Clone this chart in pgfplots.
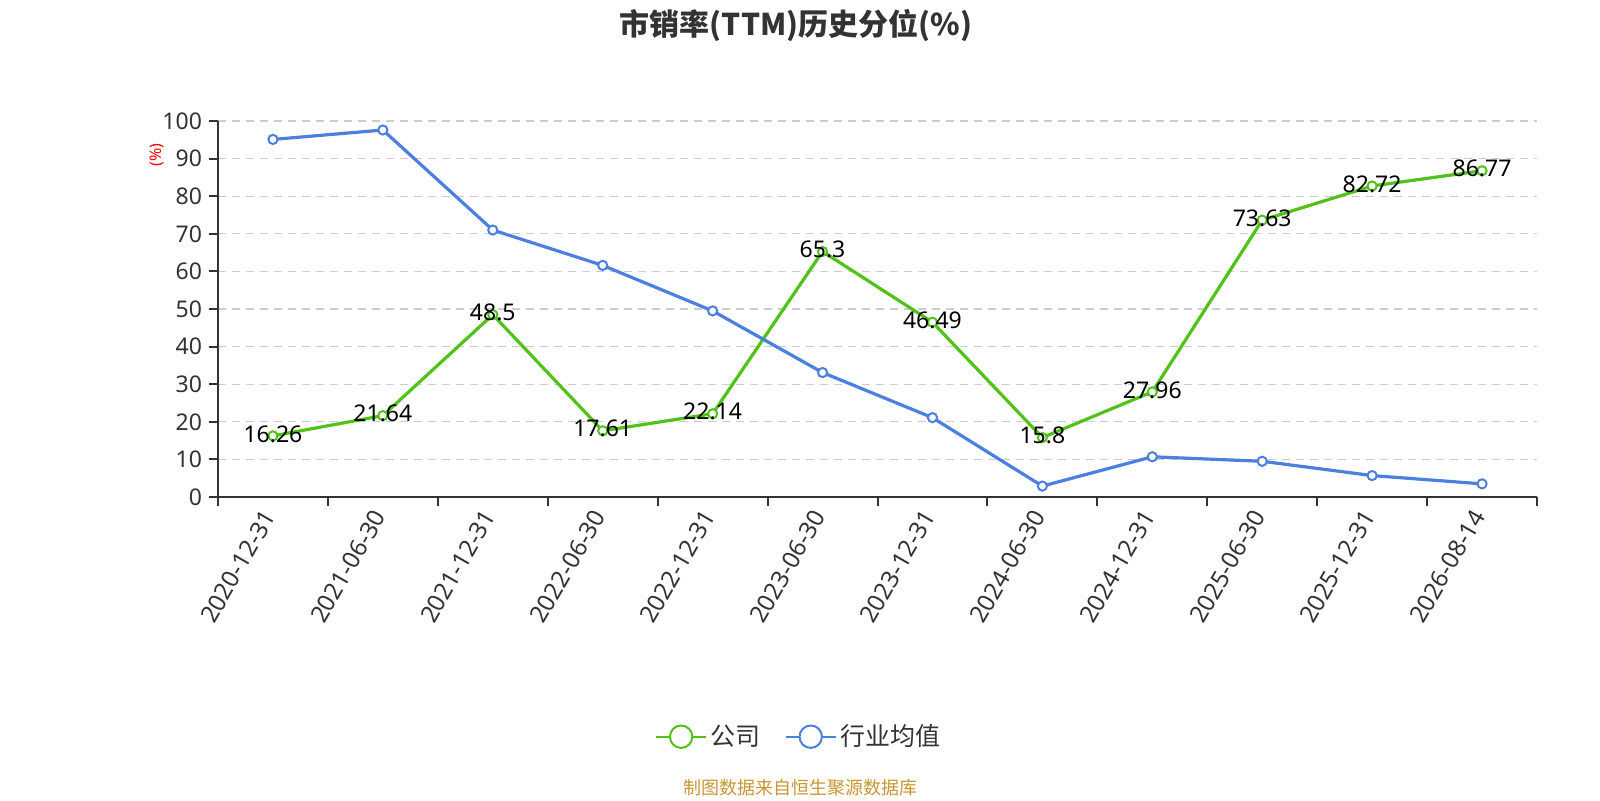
\documentclass[border=0pt]{standalone}
\usepackage{fontspec}
\setmainfont{Noto Sans}
\newfontfamily\cjk{Noto Sans CJK SC}
\usepackage{pgfplots}
\pgfplotsset{compat=1.18}
\definecolor{cgreen}{RGB}{82,194,26}
\definecolor{cblue}{RGB}{76,128,224}
\definecolor{ctext}{RGB}{51,51,51}
\definecolor{cgrid}{RGB}{204,204,204}
\definecolor{cfoot}{RGB}{200,150,50}
\begin{document}
\begin{tikzpicture}
\path[use as bounding box] (0pt,0pt) rectangle (800pt,400pt);
\node[font=\cjk\fontsize{15}{17}\selectfont\bfseries, text=ctext] at (398pt,387.5pt) {市销率(TTM)历史分位(\%)};
\node[font=\cjk\fontsize{9}{11}\selectfont, text=cfoot] at (400pt,6pt) {制图数据来自恒生聚源数据库};
\begin{axis}[
  at={(109pt,151.5pt)}, anchor=south west,
  width=659.5pt, height=188pt, scale only axis,
  xmin=-0.5, xmax=11.5, ymin=0, ymax=100,
  ytick={0,10,...,100},
  xtick={0,...,11},
  xticklabels={2020-12-31,2021-06-30,2021-12-31,2022-06-30,2022-12-31,2023-06-30,2023-12-31,2024-06-30,2024-12-31,2025-06-30,2025-12-31,2026-08-14},
  minor xtick={-0.5,0.5,...,11.5},
  x tick label style={rotate=60, anchor=east, font=\fontsize{12}{14}\selectfont, text=ctext},
  y tick label style={font=\fontsize{11.5}{13}\selectfont, text=ctext},
  /pgf/number format/assume math mode=true,
  axis lines*=left,
  axis line style={ctext, line width=1pt},
  tick align=outside,
  tick style={ctext, line width=1pt},
  major tick length=4.5pt,
  minor tick length=4.5pt,
  major x tick style={draw=none},
  ymajorgrids,
  grid style={cgrid, line width=0.6pt, dash pattern=on 4pt off 3pt},
  ylabel={(\%)},
  ylabel style={at={(axis description cs:-0.0462,0.9096)}, anchor=center, font=\fontsize{8}{9}\selectfont, text=red},
  legend style={at={(axis description cs:0.4412,-0.6375)}, anchor=center, draw=none, fill=none, font=\cjk\fontsize{12.5}{14}\selectfont, text=ctext, legend columns=-1, /tikz/every even column/.append style={column sep=10pt}},
  legend cell align=left,
  clip=false,
]
\addplot[cgreen, line width=1.6pt, mark=*, mark size=2.3pt, mark options={fill=white, draw=cgreen, line width=1pt},
  nodes near coords, nodes near coords style={font=\fontsize{11.5}{13}\selectfont, text=black, anchor=center, yshift=1pt},
  legend image code/.code={\draw[cgreen, line width=0.8pt] (0pt,0pt) -- (25pt,0pt); \draw[cgreen, fill=white, line width=1pt] (12.5pt,0pt) circle (5.6pt);}]
coordinates {(0,16.26) (1,21.64) (2,48.5) (3,17.61) (4,22.14) (5,65.3) (6,46.49) (7,15.8) (8,27.96) (9,73.63) (10,82.72) (11,86.77)};
\addlegendentry{公司}
\addplot[cblue, line width=1.6pt, mark=*, mark size=2.3pt, mark options={fill=white, draw=cblue, line width=1pt},
  legend image code/.code={\draw[cblue, line width=0.8pt] (0pt,0pt) -- (25pt,0pt); \draw[cblue, fill=white, line width=1pt] (12.5pt,0pt) circle (5.6pt);}]
coordinates {(0,95.1) (1,97.6) (2,71.0) (3,61.6) (4,49.5) (5,33.1) (6,21.1) (7,2.9) (8,10.7) (9,9.5) (10,5.7) (11,3.5)};
\addlegendentry{行业均值}
\end{axis}
\end{tikzpicture}
\end{document}
